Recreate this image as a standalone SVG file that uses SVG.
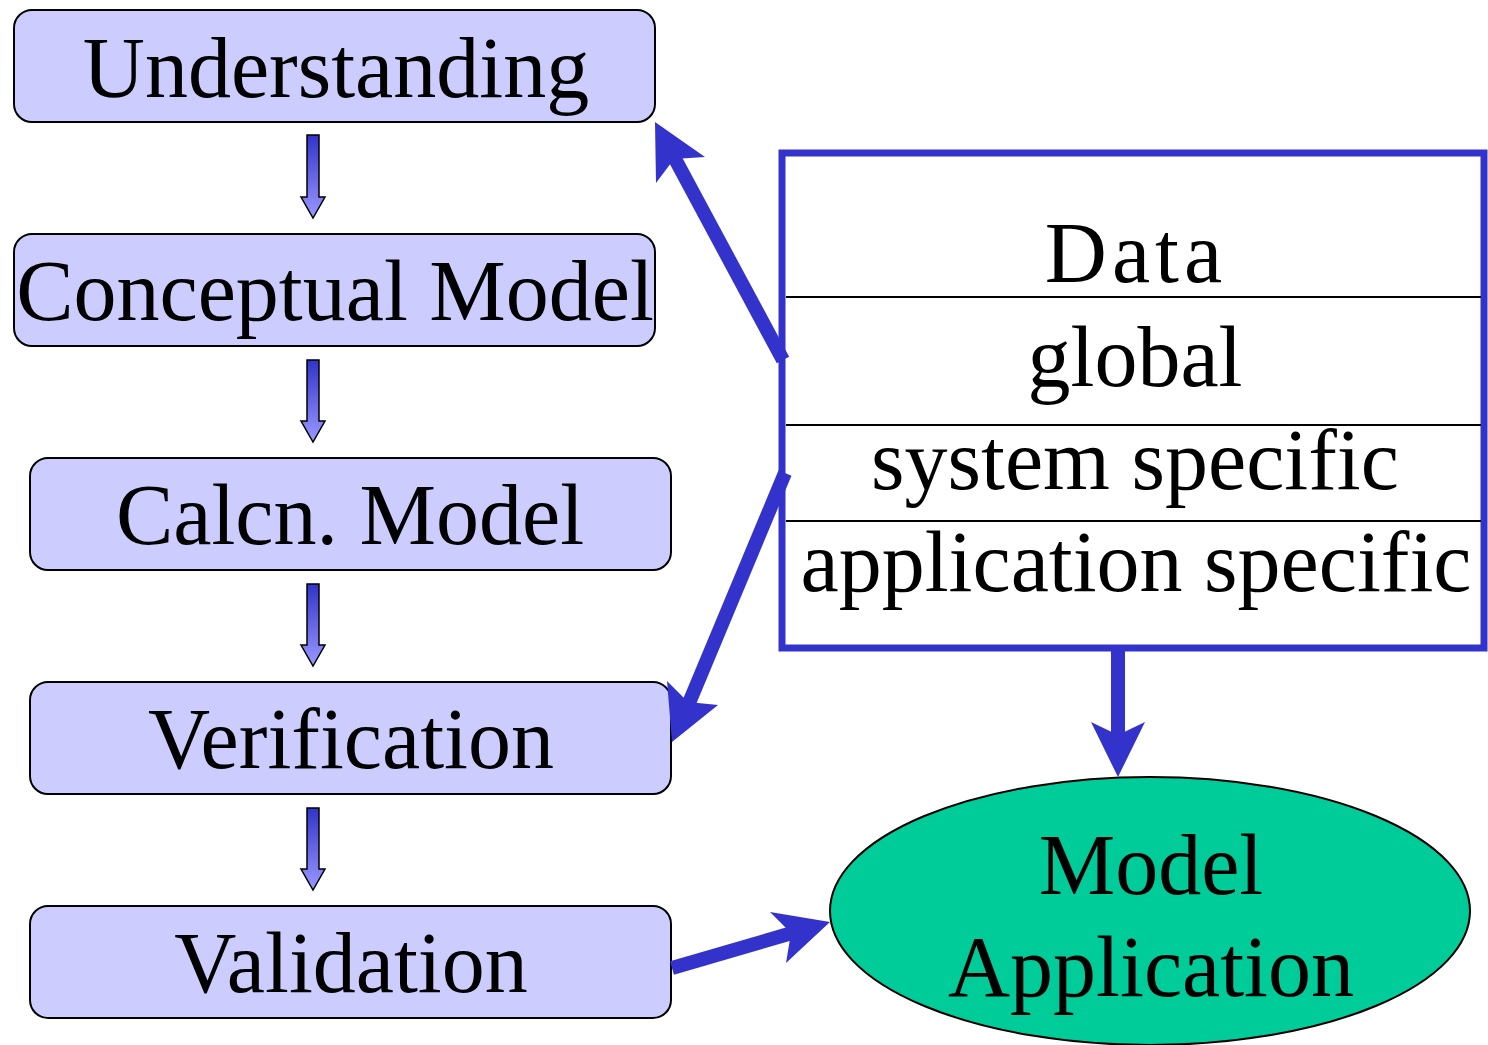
<svg xmlns="http://www.w3.org/2000/svg" width="1488" height="1045" viewBox="0 0 1488 1045">
<style>
.box{fill:#ccccff;stroke:#000;stroke-width:2}
.t{font-family:"Liberation Serif","Times New Roman",serif;font-size:86px;fill:#000;text-anchor:middle}
.sa{fill:url(#g);stroke:#000;stroke-width:1.5;stroke-linejoin:miter}
.big{stroke:#3333cc;stroke-width:14;fill:none}
.head{fill:#3333cc}
.sep{stroke:#000;stroke-width:2}
</style>
<defs>
<linearGradient id="g" x1="0" y1="0" x2="0" y2="1">
<stop offset="0" stop-color="#3333cc"/>
<stop offset="1" stop-color="#9999ff"/>
</linearGradient>
</defs>
<rect width="1488" height="1045" fill="#fff"/>
<g id="understanding"><rect class="box" x="14" y="10" width="641" height="112" rx="18"/><text class="t" x="336" y="97">Understanding</text></g>
<g id="conceptual"><rect class="box" x="14" y="234" width="641" height="112" rx="18"/><text class="t" x="335" y="320">Conceptual Model</text></g>
<g id="calcn"><rect class="box" x="30" y="458" width="641" height="112" rx="18"/><text class="t" x="350" y="544">Calcn. Model</text></g>
<g id="verification"><rect class="box" x="30" y="682" width="641" height="112" rx="18"/><text class="t" x="351" y="768">Verification</text></g>
<g id="validation"><rect class="box" x="30" y="906" width="641" height="112" rx="18"/><text class="t" x="351" y="992">Validation</text></g>
<g id="data">
<rect x="782" y="153" width="702" height="495" fill="#fff" stroke="#3333cc" stroke-width="7"/>
<line class="sep" x1="786" y1="297" x2="1481" y2="297"/>
<line class="sep" x1="786" y1="425" x2="1481" y2="425"/>
<line class="sep" x1="786" y1="521" x2="1481" y2="521"/>
<text class="t" x="1136" y="282" font-size="89" letter-spacing="5">Data</text>
<text class="t" x="1135" y="386">global</text>
<text class="t" x="1135" y="489">system specific</text>
<text class="t" x="1136" y="591">application specific</text>
</g>
<g id="modelapp">
<ellipse cx="1150" cy="911" rx="320" ry="134" fill="#00cc99" stroke="#000" stroke-width="2"/>
<text class="t" x="1151" y="894">Model</text>
<text class="t" x="1151" y="996">Application</text>
</g>
<g id="connectors">
<polygon class="sa" points="307,135 319,135 319,197 325,197 313,218 301,197 307,197"/>
<polygon class="sa" points="307,360 319,360 319,421 325,421 313,442 301,421 307,421"/>
<polygon class="sa" points="307,584 319,584 319,645 325,645 313,666 301,645 307,645"/>
<polygon class="sa" points="307,808 319,808 319,869 325,869 313,890 301,869 307,869"/>
<line class="big" x1="783" y1="360" x2="674" y2="157"/>
<polygon class="head" points="655,122 705,157 674,159 656,183"/>
<line class="big" x1="785" y1="473" x2="689" y2="703"/>
<polygon class="head" points="672,742 718,705 688,702 667,681"/>
<line class="big" x1="672" y1="968" x2="792" y2="933"/>
<polygon class="head" points="830,922 770,912 791,933 786,963"/>
<line class="big" x1="1118" y1="649" x2="1118" y2="737"/>
<polygon class="head" points="1118,777 1091,722 1118,735 1145,722"/>
</g>
</svg>
